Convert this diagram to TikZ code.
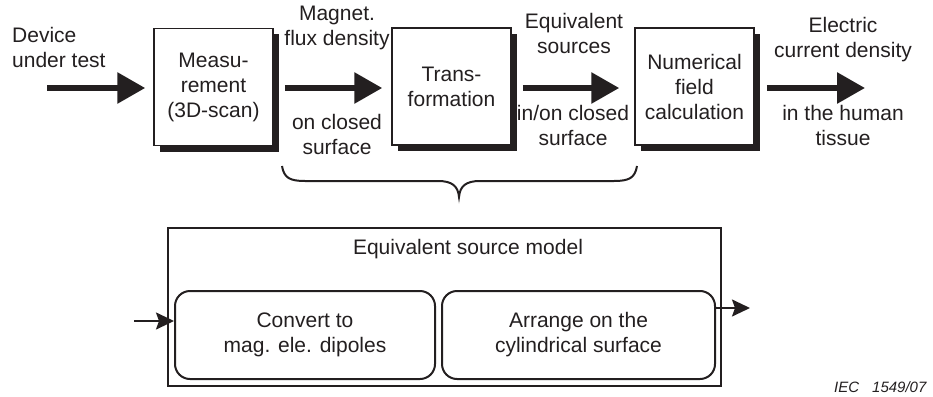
\documentclass[tikz,border=0pt]{standalone}
\usepackage{fontspec}
\setmainfont{Liberation Sans}
\usetikzlibrary{arrows.meta,shadows}
\definecolor{ink}{RGB}{35,31,32}
\begin{document}
\begin{tikzpicture}[x=1pt,y=-1pt,
  font=\fontsize{21}{25}\selectfont,
  proc/.style={draw=ink, line width=1.5pt, fill=white, minimum width=119pt,
    minimum height=117pt, align=center, inner sep=0pt, text=ink,
    drop shadow={shadow xshift=6pt, shadow yshift=-6pt, fill=ink, opacity=1}},
  lbl/.style={align=center, inner sep=0pt, text=ink},
  bigarrow/.style={draw=ink, line width=6pt, -{Triangle[length=28pt,width=30pt]}},
  smallarrow/.style={draw=ink, line width=2pt, -{Stealth[length=18pt,width=17pt,inset=3pt]}},
  rbox/.style={draw=ink, line width=2pt, rounded corners=15pt, minimum height=88pt,
    align=center, inner sep=0pt, text=ink},
  frame/.style={draw=ink, line width=2pt, minimum width=553pt, minimum height=158pt, inner sep=0pt}
]
\useasboundingbox (0,0) rectangle (933,396);

% top row
\node[lbl, anchor=west, align=left] (dev) at (12,47) {Device\\under test};
\coordinate (a1s) at (47,88);
\node[proc] (meas) at (213.5,87) {Measu-\\rement\\(3D-scan)};
\node[proc] (trans) at (451.5,86.5) {Trans-\\formation};
\node[proc] (num) at (694.5,86.5) {Numerical\\field\\calculation};
\coordinate (a4e) at (865,88);

\draw[bigarrow, shorten >=8pt] (a1s) -- (a1s -| meas.west);
\draw[bigarrow, shorten <=11pt, shorten >=9pt] (meas.east |- a1s) -- (trans.west |- a1s);
\draw[bigarrow, shorten <=11pt, shorten >=15pt] (trans.east |- a1s) -- (num.west |- a1s);
\draw[bigarrow, shorten <=12pt] (num.east |- a1s) -- (a4e);

\node[lbl] (mag) at (337,28) {Magnet.\\flux density};
\node[lbl] (onc) at (337,134) {on closed\\surface};
\node[lbl] (eqs) at (574,33) {Equivalent\\sources};
\node[lbl] (ino) at (573,125) {in/on closed\\surface};
\node[lbl] (ecd) at (843,40) {Electric\\current density};
\node[lbl] (iht) at (843,125) {in the human\\tissue};

% brace
\draw[ink, line width=2pt]
  (282,166) .. controls (284,178) and (290,181) .. (305,181) -- (438,181)
  .. controls (452,181) and (458,186) .. (459,197)
  .. controls (460,186) and (466,181) .. (480,181) -- (614,181)
  .. controls (629,181) and (635,178) .. (637,166);

% lower model
\node[frame] (model) at (444.5,307) {};
\node[lbl] (esm) at (468,249) {Equivalent source model};
\node[rbox, minimum width=260pt] (cv) at (305,335) {Convert to\\mag. ele. dipoles};
\node[rbox, minimum width=273pt] (ar) at (578.5,335) {Arrange on the\\cylindrical surface};
\coordinate (in) at (134,321);
\coordinate (out) at (750,308);
\draw[smallarrow] (in) -- (in -| cv.west);
\draw[smallarrow] (ar.east |- out) -- (out);

\node[lbl, anchor=west, font=\fontsize{15}{18}\selectfont\itshape] (iec) at (834,387) {IEC\hspace{13pt}1549/07};
\end{tikzpicture}
\end{document}
